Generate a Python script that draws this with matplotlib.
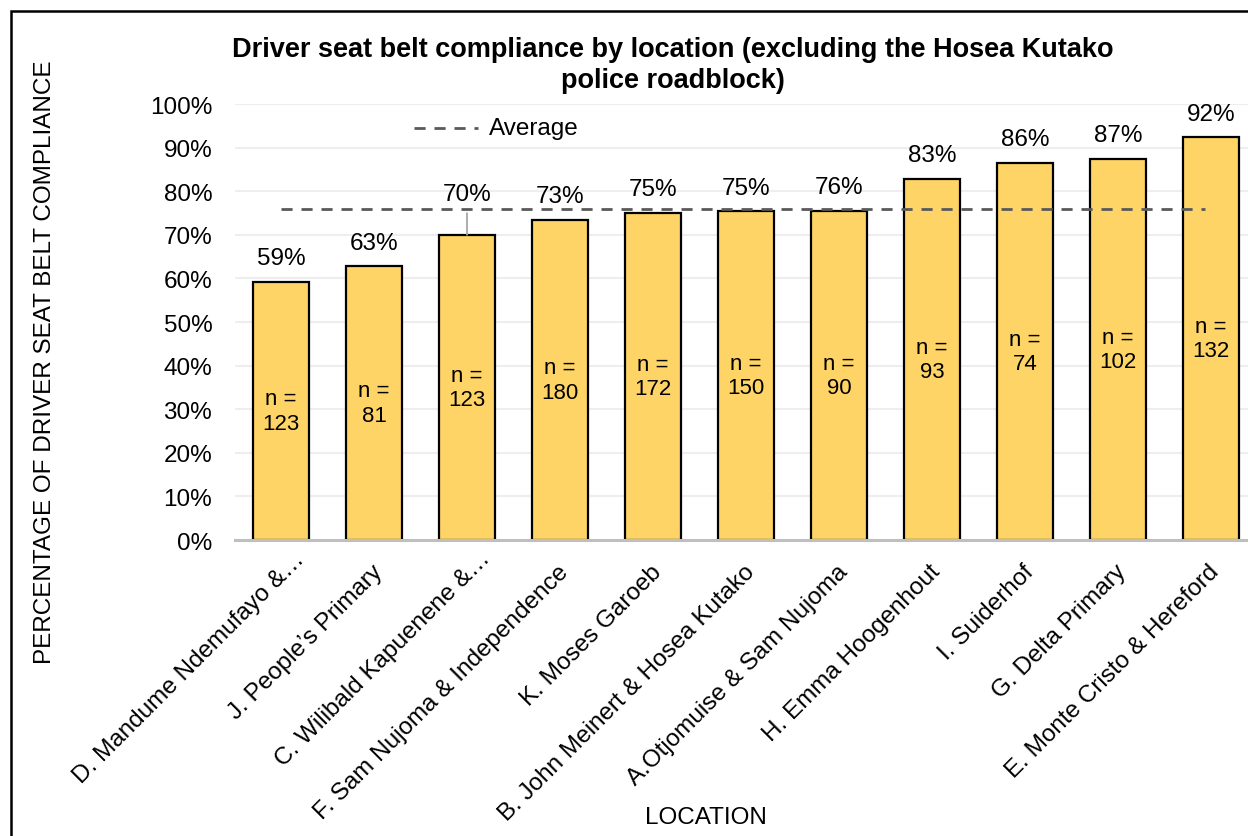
import matplotlib.pyplot as plt
import matplotlib.patches as patches
from matplotlib.transforms import ScaledTranslation

plt.rcParams['font.family'] = ['Liberation Sans', 'DejaVu Sans']

# 数据
locations = ['D. Mandume Ndemufayo &…', 'J. People\u2019s Primary', 'C. Wilibald Kapuenene &…',
             'F. Sam Nujoma & Independence', 'K. Moses Garoeb', 'B. John Meinert & Hosea Kutako',
             'A.Otjomuise & Sam Nujoma', 'H. Emma Hoogenhout', 'I. Suiderhof',
             'G. Delta Primary', 'E. Monte Cristo & Hereford']
compliance = [0.592, 0.628, 0.700, 0.734, 0.750, 0.754, 0.755, 0.828, 0.865, 0.874, 0.924]
pct_labels = ['59%', '63%', '70%', '73%', '75%', '75%', '76%', '83%', '86%', '87%', '92%']
n_counts = [123, 81, 123, 180, 172, 150, 90, 93, 74, 102, 132]
average = 0.76

FS = 17.5

fig = plt.figure(figsize=(12.48, 8.37), dpi=100)
ax = fig.add_axes([234.5 / 1248, 1 - 541 / 837, 1023 / 1248, 436 / 837])

x = list(range(len(locations)))
ax.bar(x, compliance, width=0.61, color='#FDD465', edgecolor='black', linewidth=1.6, zorder=3)
ax.plot([0, 9.94], [average, average], color='#595959', lw=2, dashes=(4, 3.2), zorder=4)

ax.set_xlim(-0.5, 10.5)
ax.set_ylim(0, 1.0)
ax.set_yticks([i / 10 for i in range(11)])
ax.set_yticklabels([f'{i * 10}%' for i in range(11)], fontsize=FS)
ax.tick_params(axis='y', length=0, pad=16)
ax.tick_params(axis='x', length=0, pad=0)
ax.grid(axis='y', color='#eeeeee', lw=1.5, zorder=0)
for s in ['top', 'right', 'left']:
    ax.spines[s].set_visible(False)
ax.spines['bottom'].set_color('#bfbfbf')
ax.spines['bottom'].set_linewidth(2.2)
ax.spines['bottom'].set_zorder(5)

ax.set_xticks(x)
ax.set_xticklabels(locations, rotation=45, ha='right', va='center', rotation_mode='anchor', fontsize=FS)
for lab in ax.get_xticklabels():
    dx, dy = 5, -28
    if lab.get_text().endswith('…'):
        dx, dy = dx + 15, dy + 13
    lab.set_transform(lab.get_transform() + ScaledTranslation(dx / 100, dy / 100, fig.dpi_scale_trans))

# 数值标签
for i, (v, t, n) in enumerate(zip(compliance, pct_labels, n_counts)):
    if t == '70%':
        ax.annotate(t, xy=(i, v), xytext=(0, 29.5), textcoords='offset points', ha='center', va='center',
                    fontsize=FS, arrowprops=dict(arrowstyle='-', color='#a6a6a6', lw=1.3,
                                                 shrinkA=4, shrinkB=0))
    else:
        ax.annotate(t, xy=(i, v), xytext=(0, 17), textcoords='offset points', ha='center', va='center',
                    fontsize=FS)
    ax.text(i, v / 2, f'n =\n{n}', ha='center', va='center', fontsize=16, linespacing=1.2,
            zorder=5)

# 图例
ax.plot([1.43, 2.12], [0.945, 0.945], color='#595959', lw=2, dashes=(4, 3.2), clip_on=False)
ax.text(2.24, 0.945, 'Average', ha='left', va='center', fontsize=FS)

fig.text(673 / 1248, 1 - 50 / 837, 'Driver seat belt compliance by location (excluding the Hosea Kutako',
         ha='center', va='center', fontsize=19.5, fontweight='bold')
fig.text(673 / 1248, 1 - 81 / 837, 'police roadblock)', ha='center', va='center', fontsize=19.5,
         fontweight='bold')
fig.text(45 / 1248, 1 - 362 / 837, 'PERCENTAGE OF DRIVER SEAT BELT COMPLIANCE', rotation=90,
         ha='center', va='center', fontsize=FS)
fig.text(706 / 1248, 1 - 818 / 837, 'LOCATION', ha='center', va='center', fontsize=FS)

# 外框
fig.patches.append(patches.Rectangle((10.5 / 1248, -0.1), 1.2, 1.1 - 11.5 / 837, transform=fig.transFigure,
                                     fill=False, edgecolor='black', lw=1.8))

fig.savefig('out.png', dpi=100)
